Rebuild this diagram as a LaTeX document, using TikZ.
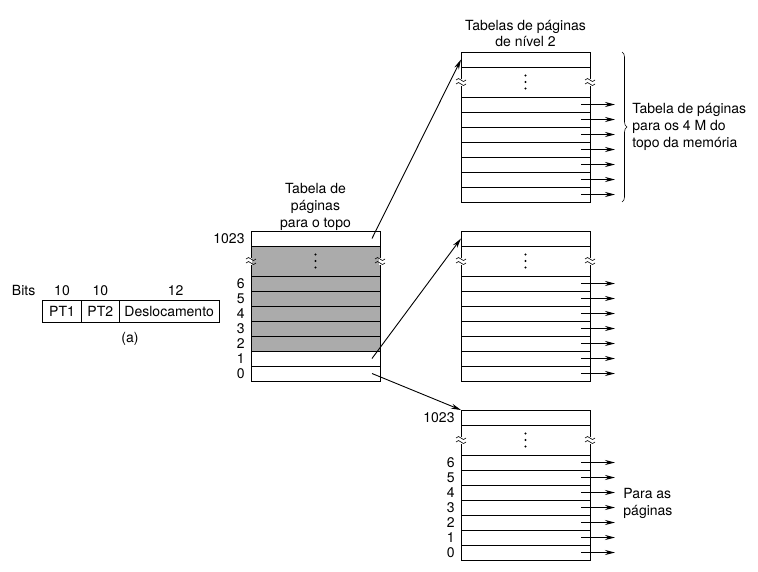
\documentclass[tikz,border=0pt]{standalone}
\usepackage{fontspec}
\setmainfont{TeX Gyre Heros}
\usetikzlibrary{arrows.meta,positioning,calc,backgrounds,decorations.pathreplacing}

\tikzset{
  linha/.style={draw, minimum width=129pt, minimum height=15pt, inner sep=0pt, outer sep=0pt},
  lacuna/.style={linha, minimum height=30pt},
  campo/.style={draw, minimum height=22pt, inner sep=0pt, outer sep=0pt},
  rotulo/.style={inner sep=0pt},
  seta/.style={-{Stealth[length=10pt,width=5pt]}},
}
% corte ondulado na borda da tabela
\newcommand{\quebra}[1]{%
  \draw[white, line width=2pt] ($(#1)+(0,-3.5)$) -- ($(#1)+(0,3.5)$);
  \draw[line width=0.6pt] ($(#1)+(-5,-2)$) sin ++(2.5,-1.5) cos ++(2.5,1.5) sin ++(2.5,1.5) cos ++(2.5,-1.5);
  \draw[line width=0.6pt] ($(#1)+(-5,2)$) sin ++(2.5,-1.5) cos ++(2.5,1.5) sin ++(2.5,1.5) cos ++(2.5,-1.5);
}

\begin{document}
\begin{tikzpicture}[x=1pt, y=-1pt, line width=0.9pt, font=\fontsize{14}{16.8}\selectfont]
\useasboundingbox (0,0) rectangle (758,571);

% tabelas
\foreach \n/\x/\y in {P/251/231, Q/461/52, M/461/231, B/461/410} {
  \node[linha, anchor=north west] (\n-top) at (\x,\y) {};
  \node[lacuna, anchor=north west] (\n-gap) at (\x,\y+15) {};
  \foreach \r in {6,...,0}
    \node[linha, anchor=north west] (\n-\r) at (\x,{\y+45+15*(6-\r)}) {};
  \foreach \d in {-6.5,0,6.5}
    \fill (\n-gap.center) ++(0,\d) circle (1.2pt);
  \quebra{\n-gap.west}
  \quebra{\n-gap.east}
}
\begin{scope}[on background layer]
  \fill[black!33] (P-gap.north west) rectangle (P-2.south east);
\end{scope}

% numeros das entradas
\foreach \n in {P,B} {
  \node[rotulo, anchor=east] (\n-l1023) at ([xshift=-6pt]\n-top.west) {1023};
  \foreach \r in {6,...,0}
    \node[rotulo, anchor=east] (\n-l\r) at ([xshift=-6pt]\n-\r.west) {\r};
}

% ponteiros para as paginas
\foreach \n in {Q,M,B}
  \foreach \r in {6,...,0} {
    \coordinate (\n-\r-fim) at ([xshift=25pt]\n-\r.east);
    \draw[seta] ([xshift=-9pt]\n-\r.east) -- (\n-\r-fim);
  }

\draw[seta] ([xshift=-8pt]P-top.east) -- (Q-top.west);
\draw[seta] ([xshift=-8pt]P-1.east) -- (M-top.west);
\draw[seta] ([xshift=-8pt]P-0.east) -- (B-top.north west);

\node[rotulo, align=center, above=0pt of P-top] (tit-P) {Tabela de\\páginas\\para o topo};
\node[rotulo, align=center, above=4.5pt of Q-top] (tit-Q) {Tabelas de páginas\\de nível 2};

\coordinate (chave-a) at ([xshift=32pt]Q-top.north east);
\coordinate (chave-b) at ([xshift=32pt]Q-0.south east);
\draw[decorate, decoration={brace, amplitude=5pt}, line width=0.6pt] (chave-a) -- (chave-b);
\node[rotulo, align=left, anchor=west] (txt-4M) at ($(chave-a)!0.5!(chave-b)+(10,0)$) {Tabela de páginas\\para os 4 M do\\topo da memória};
\node[rotulo, align=left, anchor=west] (txt-pag) at ($(B-4.east)+(33,11)$) {Para as\\páginas};

% endereco virtual
\node[campo, minimum width=38.6pt, anchor=north west] (pt1) at (42.7,300.7) {PT1};
\node[campo, minimum width=38pt, right=0pt of pt1] (pt2) {PT2};
\node[campo, minimum width=99.7pt, right=0pt of pt2] (desl) {Deslocamento};
\node[rotulo, above=4.5pt of pt1] (b1) {10};
\node[rotulo, above=4.5pt of pt2] (b2) {10};
\node[rotulo, above=4.5pt of desl, xshift=6.5pt] (b3) {12};
\node[rotulo, left=18pt of b1] (bits) {Bits};
\node[rotulo] (leg-a) at (130,339) {(a)};
\end{tikzpicture}
\end{document}
